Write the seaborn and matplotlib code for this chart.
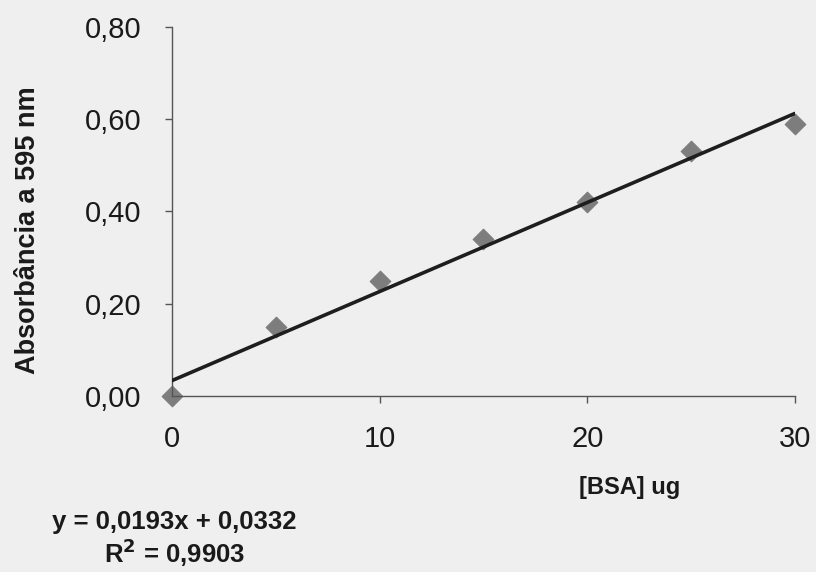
import numpy as np
import pandas as pd
import matplotlib
matplotlib.use("Agg")
import matplotlib.pyplot as plt
import seaborn as sns

# BSA standard curve (Bradford)
bsa_ug = [0, 5, 10, 15, 20, 25, 30]
absorb = [0.00, 0.15, 0.25, 0.34, 0.42, 0.53, 0.59]

# trend line as printed on the chart
slope = 0.0193
intercept = 0.0332
r2 = 0.9903

x_ticks = [0, 10, 20, 30]
y_ticks = [0.0, 0.2, 0.4, 0.6, 0.8]
y_ticklabels = ["0,00", "0,20", "0,40", "0,60", "0,80"]

df = pd.DataFrame({"bsa": bsa_ug, "abs": absorb})
fit = pd.DataFrame({"bsa": [min(bsa_ug), max(bsa_ug)]})
fit["abs"] = slope * fit["bsa"] + intercept

sns.set_style("white")
plt.rcParams['font.family'] = ['Liberation Sans', 'DejaVu Sans']

bg = "#efefef"
txt = "#1a1a1a"
fig = plt.figure(figsize=(8.16, 5.72), dpi=100, facecolor=bg)
ax = fig.add_axes([0.211, 0.308, 0.763, 0.645])
ax.set_facecolor(bg)

sns.lineplot(data=fit, x="bsa", y="abs", ax=ax, color="#1e1e1e", linewidth=2.6, zorder=3)
sns.scatterplot(data=df, x="bsa", y="abs", ax=ax, marker="D", s=110, color="#7d7d7d",
                edgecolor="#7d7d7d", zorder=2, clip_on=False)

ax.set_xlim(0, 30)
ax.set_ylim(0, 0.8)
ax.set_xticks(x_ticks)
ax.set_xticklabels([str(t) for t in x_ticks])
ax.set_yticks(y_ticks)
ax.set_yticklabels(y_ticklabels)

for s in ["top", "right"]:
    ax.spines[s].set_visible(False)
for s in ["left", "bottom"]:
    ax.spines[s].set_color("#555555")
    ax.spines[s].set_linewidth(1.0)

ax.tick_params(axis="both", direction="out", length=5, width=1, color="#555555",
               labelsize=21, labelcolor=txt, bottom=True, left=True)
ax.tick_params(axis="x", pad=16)
ax.tick_params(axis="y", pad=17)

ax.set_xlabel("")
ax.set_ylabel("Absorbância a 595 nm", fontsize=19.5, fontweight="bold", color=txt)
ax.yaxis.set_label_coords(-0.21, 0.45)

fig.text(0.772, 0.147, "[BSA] ug", fontsize=17, fontweight="bold", color=txt,
         ha="center", va="center")
eq = "y = " + f"{slope:.4f}".replace(".", ",") + "x + " + f"{intercept:.4f}".replace(".", ",")
fig.text(0.214, 0.087, eq, fontsize=18.5, fontweight="bold", color=txt, ha="center", va="center")
fig.text(0.214, 0.033, "R$^\\mathbf{2}$ = " + f"{r2:.4f}".replace(".", ","), fontsize=18.5,
         fontweight="bold", color=txt, ha="center", va="center")

fig.savefig("out.png", dpi=100, facecolor=bg)
